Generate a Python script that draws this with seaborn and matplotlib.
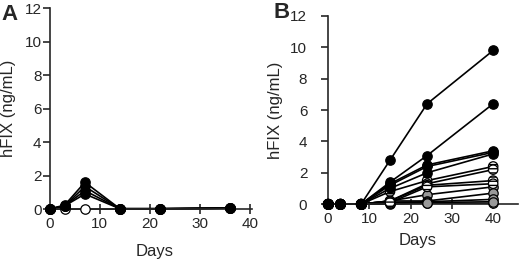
import numpy as np
import pandas as pd
import matplotlib
matplotlib.use("Agg")
import matplotlib.pyplot as plt
import seaborn as sns

sns.set_style("ticks")
plt.rcParams["font.family"] = ["Liberation Sans", "DejaVu Sans"]
plt.rcParams["hatch.linewidth"] = 1.0

# Panel A: days and one list per animal
days_a = [0, 3, 7, 14, 22, 36]
a_open = [0, 0, 0, 0, 0, 0.05]
a_black1 = [0, 0.25, 1.6, 0.02, 0.02, 0.06]
a_black2 = [0, 0.2, 1.35, 0.02, 0.02, 0.06]
a_black3 = [0, 0.2, 1.1, 0.02, 0.02, 0.06]
a_black4 = [0, 0.2, 0.9, 0.02, 0.02, 0.06]

# Panel B
days_b = [0, 3, 8, 15, 24, 40]
b_black = [
    [0, 0, 0, 2.8, 6.4, 9.8],
    [0, 0, 0, 1.4, 3.1, 6.4],
    [0, 0, 0, 1.3, 2.5, 3.4],
    [0, 0, 0, 1.2, 2.4, 3.3],
    [0, 0, 0, 1.0, 2.0, 3.2],
]
b_striped = [
    [0, 0, 0, 0.8, 1.5, 2.4],
    [0, 0, 0, 0.2, 1.3, 2.2],
    [0, 0, 0, 0.2, 1.2, 1.5],
    [0, 0, 0, 0.1, 1.1, 1.3],
]
b_gray = [
    [0, 0, 0, 0.2, 0.6, 1.1],
    [0, 0, 0, 0.2, 0.2, 0.7],
    [0, 0, 0, 0.1, 0.15, 0.3],
    [0, 0, 0, 0.1, 0.1, 0.15],
]
b_open = [[0, 0, 0, 0, 0.05, 0.05]]

styles = {
    "open": dict(color="white", hatch=None),
    "gray": dict(color="#999999", hatch=None),
    "striped": dict(color="white", hatch="----"),
    "black": dict(color="black", hatch=None),
}


def to_frame(days, groups):
    rows = []
    n = 0
    for style, series in groups:
        for vals in series:
            for d, v in zip(days, vals):
                rows.append({"day": d, "value": v, "subject": n, "style": style})
            n += 1
    return pd.DataFrame(rows)


df_a = to_frame(days_a, [("open", [a_open]),
                         ("black", [a_black4, a_black3, a_black2, a_black1])])
df_b = to_frame(days_b, [("open", b_open), ("gray", b_gray),
                         ("striped", b_striped), ("black", b_black)])

fig = plt.figure(figsize=(5.2, 2.62), dpi=100)
ax_a = fig.add_axes([0.096, 0.202, 0.389, 0.767])
ax_b = fig.add_axes([0.631, 0.221, 0.365, 0.718])


def draw(ax, df, xmax, letter, ypad, letter_xy, ylab_x, xlab_xy):
    sns.lineplot(data=df, x="day", y="value", units="subject", estimator=None,
                 color="black", lw=1.2, ax=ax, legend=False, clip_on=False)
    for style, st in styles.items():
        sub = df[df["style"] == style]
        if sub.empty:
            continue
        kw = {}
        if st["hatch"]:
            kw["hatch"] = st["hatch"]
        sns.scatterplot(data=sub, x="day", y="value", color=st["color"],
                        edgecolor="black", linewidth=0.9, s=46, ax=ax,
                        legend=False, clip_on=False, zorder=3, **kw)
    ax.set_xlim(0, xmax)
    ax.set_ylim(0, 12)
    ax.set_yticks(range(0, 13, 2))
    ax.set_xticks(range(0, 41, 10))
    ax.set_xlabel("Days", fontsize=12)
    ax.set_ylabel("hFIX (ng/mL)", fontsize=12)
    ax.xaxis.set_label_coords(*xlab_xy)
    ax.yaxis.set_label_coords(ylab_x, 0.5)
    ax.tick_params(axis="y", direction="out", length=5, width=1.2,
                   labelsize=11, pad=ypad)
    ax.tick_params(axis="x", direction="inout", length=7, width=1.2,
                   labelsize=11, pad=2)
    for s in ["top", "right"]:
        ax.spines[s].set_visible(False)
    for s in ["left", "bottom"]:
        ax.spines[s].set_linewidth(1.2)
    ax.text(*letter_xy, letter, transform=ax.transAxes,
            fontsize=16, fontweight="bold", ha="left", va="center")


draw(ax_a, df_a, 40.5, "A", 1, (-0.238, 0.97), -0.17, (0.52, -0.176))
draw(ax_b, df_b, 46, "B", 10, (-0.29, 1.02), -0.237, (0.47, -0.154))

fig.savefig("out.png", dpi=100)
